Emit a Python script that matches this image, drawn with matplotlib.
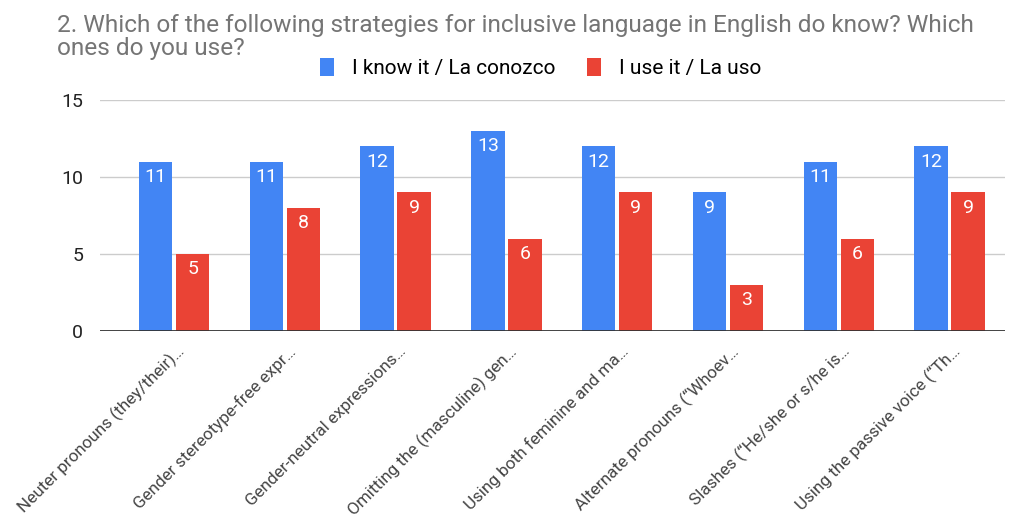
import matplotlib.pyplot as plt
import numpy as np

plt.rcParams['font.family'] = ['Roboto', 'DejaVu Sans']

strategies = [
    "Neuter pronouns (they/their)…",
    "Gender stereotype-free expr…",
    "Gender-neutral expressions…",
    "Omitting the (masculine) gen…",
    "Using both feminine and ma…",
    "Alternate pronouns (“Whoev…",
    "Slashes (“He/she or s/he is…",
    "Using the passive voice (“Th…",
]
know_it = [11, 11, 12, 13, 12, 9, 11, 12]
use_it = [5, 8, 9, 6, 9, 3, 6, 9]

blue = '#4285f4'
red = '#ea4335'

fig = plt.figure(figsize=(10.15, 5.16), dpi=100)
ax = fig.add_axes([100 / 1015, 1 - 331 / 516, 905 / 1015, 231 / 516])

x = np.arange(len(strategies))
w = 0.30
off = 0.167
b1 = ax.bar(x - off, know_it, w, color=blue, label='I know it / La conozco', zorder=3)
b2 = ax.bar(x + off, use_it, w, color=red, label='I use it / La uso', zorder=3)

# value labels sit just inside the top of each bar
for bars in (b1, b2):
    for rect in bars:
        h = rect.get_height()
        ax.text(rect.get_x() + rect.get_width() / 2, h - 0.42, f'{int(h)}',
                ha='center', va='top', color='white', fontsize=14, zorder=4)

ax.set_xlim(-0.668, len(strategies) - 0.5)
ax.set_ylim(0, 15)
ax.set_yticks([0, 5, 10, 15])
ax.tick_params(axis='y', length=0, labelsize=14, labelcolor='#222222', pad=12)
ax.tick_params(axis='x', length=0)
ax.set_xticks(x)
ax.set_xticklabels([])
ax.grid(axis='y', color='#cccccc', linewidth=1, zorder=0)
for s in ax.spines.values():
    s.set_visible(False)
ax.axhline(0, color='#333333', linewidth=2, zorder=5)

for i, lab in enumerate(strategies):
    ax.annotate(lab, xy=(i, 0), xytext=(6, -13), textcoords='offset points',
                ha='right', va='center', rotation=45, rotation_mode='anchor',
                fontsize=12.3, color='#444444', annotation_clip=False)

fig.text(57 / 1015, 1 - 37 / 516,
         '2. Which of the following strategies for inclusive language in English do know? Which\nones do you use?',
         fontsize=17.6, color='#757575', va='center', ha='left', linespacing=0.95)

fig.legend(handles=[b1, b2], loc='center', bbox_to_anchor=(541 / 1015, 1 - 68 / 516),
           ncol=2, frameon=False, fontsize=15, handlelength=0.65, handleheight=0.95,
           columnspacing=1.5, handletextpad=0.9)

fig.savefig('out.png', dpi=100)
